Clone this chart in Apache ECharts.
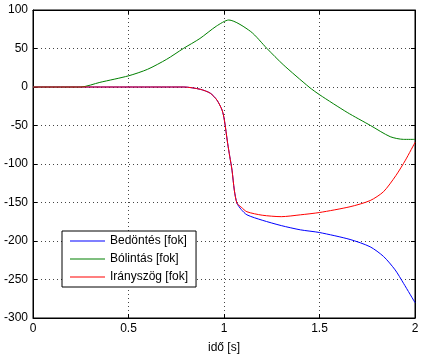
<!DOCTYPE html>
<html>
<head>
<meta charset="utf-8">
<script src="https://cdn.jsdelivr.net/npm/echarts@6/dist/echarts.min.js"></script>
<style>html,body{margin:0;padding:0;background:#fff;}#c{width:424px;height:359px;}</style>
</head>
<body>
<div id="c"></div>
<script>
var seriesNames = ['Bedöntés [fok]', 'Bólintás [fok]', 'Irányszög [fok]'];
var xTicks = [0, 0.5, 1, 1.5, 2];
var yTicks = [-300, -250, -200, -150, -100, -50, 0, 50, 100];

var blueT = [0, 0.79, 0.876, 0.928, 0.963, 0.99, 1.002, 1.019, 1.03, 1.042, 1.054, 1.068, 1.09, 1.12, 1.2, 1.3, 1.4, 1.5, 1.66, 1.765, 1.835, 1.896, 1.94, 2.0];
var blueV = [0, 0, -3, -8, -17, -30, -43, -73, -90, -108, -134, -151, -159, -166, -173, -180, -185.5, -189, -198, -207.5, -220, -237.5, -255, -280];

var greenT = [0, 0.25, 0.35, 0.5, 0.6, 0.7, 0.787, 0.874, 0.96, 1.025, 1.14, 1.225, 1.31, 1.445, 1.5, 1.645, 1.767, 1.87, 1.94, 2.0];
var greenV = [0, 0, 6, 14.5, 23, 36, 50, 63, 79, 87, 72, 50, 29, 0, -10, -33, -50, -64.5, -68, -68];

var redT = [0, 0.79, 0.876, 0.928, 0.963, 0.99, 1.002, 1.019, 1.03, 1.042, 1.054, 1.068, 1.09, 1.12, 1.2, 1.3, 1.4, 1.5, 1.66, 1.765, 1.835, 1.9, 1.95, 2.0];
var redV = [0, 0, -3, -8, -17, -30, -43, -73, -90, -108, -134, -151, -156, -162, -166.5, -168.4, -166, -163, -155.5, -147.5, -136, -115, -95, -72];

function pairs(t, v) { return t.map(function (x, i) { return [x, v[i]]; }); }

var font = 'Liberation Sans, Arial, sans-serif';
var chart = echarts.init(document.getElementById('c'), null, {renderer: 'canvas'});
var gridLine = {show: true, lineStyle: {color: '#444', type: [1, 3], width: 1}};
chart.setOption({
  animation: false,
  backgroundColor: '#fff',
  grid: {left: 33, right: 9, top: 10, bottom: 41, show: true, borderColor: '#000', borderWidth: 1, backgroundColor: '#fff'},
  xAxis: [{
    type: 'value', min: xTicks[0], max: xTicks[xTicks.length - 1], interval: 0.5,
    name: 'idő [s]', nameLocation: 'middle', nameGap: 24,
    nameTextStyle: {color: '#000', fontSize: 12, fontFamily: font},
    axisLine: {onZero: false, lineStyle: {color: '#000'}},
    axisTick: {inside: true, length: 4, lineStyle: {color: '#000'}},
    axisLabel: {color: '#000', fontSize: 12, fontFamily: font, margin: 5},
    splitLine: gridLine
  }, {
    type: 'value', position: 'top', min: 0, max: 2, interval: 0.5,
    axisLine: {onZero: false, lineStyle: {color: '#000'}},
    axisTick: {inside: true, length: 4, lineStyle: {color: '#000'}},
    axisLabel: {show: false}, splitLine: {show: false}
  }],
  yAxis: [{
    type: 'value', min: yTicks[0], max: yTicks[yTicks.length - 1], interval: 50,
    axisLine: {show: true, onZero: false, lineStyle: {color: '#000'}},
    axisTick: {show: true, inside: true, length: 4, lineStyle: {color: '#000'}},
    axisLabel: {color: '#000', fontSize: 12, fontFamily: font, margin: 5},
    splitLine: gridLine
  }, {
    type: 'value', position: 'right', min: -300, max: 100, interval: 50,
    axisLine: {show: true, onZero: false, lineStyle: {color: '#000'}},
    axisTick: {show: true, inside: true, length: 4, lineStyle: {color: '#000'}},
    axisLabel: {show: false}, splitLine: {show: false}
  }],
  legend: {
    orient: 'vertical', left: 62, top: 231,
    data: seriesNames.map(function (n) { return {name: n, icon: 'path://M0,0L35,0L35,1L0,1Z'}; }),
    itemWidth: 35, itemHeight: 2, itemGap: 6, itemTextGap: 5,
    padding: [4, 8, 4, 8],
    backgroundColor: '#fff', borderColor: '#000', borderWidth: 1, borderRadius: 0,
    textStyle: {color: '#000', fontSize: 12, fontFamily: font, lineHeight: 12}
  },
  series: [
    {name: seriesNames[0], type: 'line', data: pairs(blueT, blueV), symbol: 'none', smooth: 0.25, lineStyle: {color: '#0000ff', width: 1}, itemStyle: {color: '#0000ff'}, z: 2},
    {name: seriesNames[1], type: 'line', data: pairs(greenT, greenV), symbol: 'none', smooth: 0.25, lineStyle: {color: '#008000', width: 1}, itemStyle: {color: '#008000'}, z: 3},
    {name: seriesNames[2], type: 'line', data: pairs(redT, redV), symbol: 'none', smooth: 0.25, lineStyle: {color: '#ff0000', width: 1}, itemStyle: {color: '#ff0000'}, z: 4}
  ]
});
</script>
</body>
</html>
